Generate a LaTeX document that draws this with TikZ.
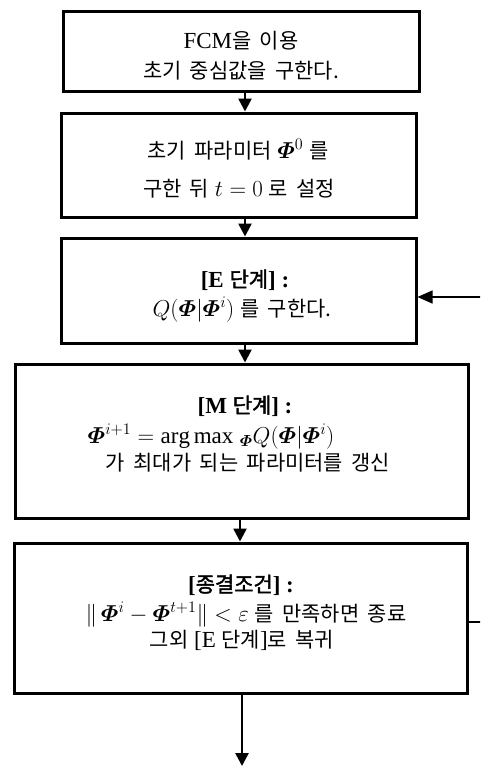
\RequirePackage{fix-cm}
\documentclass[tikz,border=0pt]{standalone}
\usepackage{amsmath,bm}
\usepackage{fontspec}
\setmainfont{Liberation Serif}
\newfontfamily\kr{Noto Sans CJK KR}[Scale=0.91,WordSpace=1.8,AutoFakeBold=2]
\usetikzlibrary{arrows.meta}
\newcommand{\Ph}{\bm{\varPhi}}
\newcommand{\K}[1]{{\kr #1}}
\begin{document}
\begin{tikzpicture}[x=1pt,y=-1pt,
  boxst/.style={draw, line width=3pt, inner sep=0pt},
  txt/.style={inner sep=0pt, anchor=base, font=\fontsize{23}{26}\selectfont},
  arr/.style={line width=2.6pt, -{Triangle[width=13pt,length=13pt]}},
  back/.style={line width=1.5pt, -{Triangle[width=13pt,length=15pt]}}]
\clip (0,0) rectangle (480,766);
\fill[white] (0,0) rectangle (480,766);
% boxes
\node[boxst, minimum width=356pt, minimum height=80pt] (b1) at (241,51) {};
\node[boxst, minimum width=355pt, minimum height=104pt] (b2) at (238.5,165) {};
\node[boxst, minimum width=355pt, minimum height=105pt] (b3) at (238.5,290.5) {};
\node[boxst, minimum width=453pt, minimum height=154pt] (b4) at (241.5,441) {};
\node[boxst, minimum width=453pt, minimum height=150pt] (b5) at (240.5,618) {};
% texts
\node[txt] (t1a) at (241,48) {FCM\K{을 이용}};
\node[txt] (t1b) at (241,78) {\K{초기 중심값을 구한다.}};
\node[txt] (t2a) at (238,158) {\K{초기 파라미터} $\Ph^0$ \K{를}};
\node[txt] (t2b) at (239,196) {\K{구한 뒤} $t=0$ \K{로 설정}};
\node[txt] (t3a) at (245,287) {\textbf{[E \K{단계}] :}};
\node[txt] (t3b) at (242,316) {$Q(\Ph|\Ph^i)$ \K{를 구한다.}};
\node[txt] (t4a) at (245,413) {\textbf{[M \K{단계}] :}};
\node[txt] (t4b) at (211,443) {$\Ph^{i+1}=\mathrm{arg\,max}\;{}_{\Ph}Q(\Ph|\Ph^i)$};
\node[txt] (t4c) at (248,470) {\K{가 최대가 되는 파라미터를 갱신}};
\node[txt] (t5a) at (241,592) {\textbf{[\K{종결조건}] :}};
\node[txt] (t5b) at (246,621) {$\|\,\Ph^i-\Ph^{t+1}\|<\varepsilon$ \K{를 만족하면 종료}};
\node[txt] (t5c) at (242,647) {\K{그외} [E \K{단계}]\K{로 복귀}};
% connectors
\draw[arr] ([xshift=4pt]b1.south) -- ([xshift=4pt]b1.south |- b2.north);
\draw[arr] ([xshift=6.5pt]b2.south) -- ([xshift=6.5pt]b2.south |- b3.north);
\draw[arr] ([xshift=6.5pt]b3.south) -- ([xshift=6.5pt]b3.south |- b4.north);
\draw[arr] ([xshift=-1.5pt]b4.south) -- ([xshift=-1.5pt]b4.south |- b5.north);
\coordinate (endp) at (242,766);
\draw[arr] (b5.south -| endp) -- (endp);
\coordinate (r1) at (490,622);
\coordinate (r2) at (490,297);
\draw[back] (b5.east |- r1) -- (r1) -- (r2) -- (b3.east |- r2);
\end{tikzpicture}
\end{document}
